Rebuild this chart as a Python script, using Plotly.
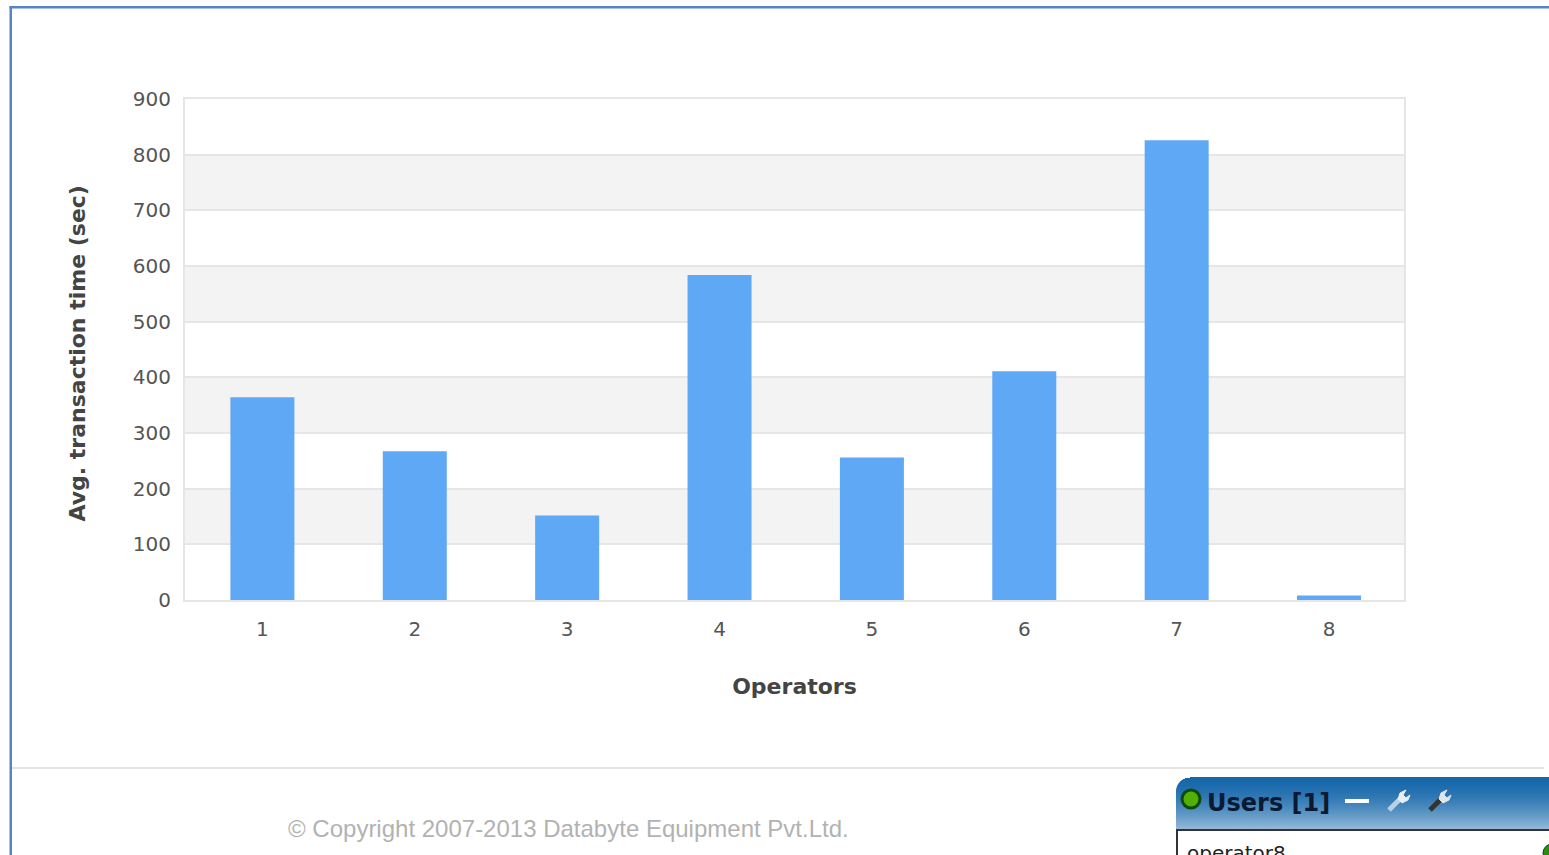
import math

import plotly.graph_objects as go

WIDTH, HEIGHT = 1549, 855
PLOT_L, PLOT_R, PLOT_T, PLOT_B = 185, 1404, 99, 600

# Average transaction time per operator
operators = [1, 2, 3, 4, 5, 6, 7, 8]
avg_time_sec = [364, 267, 152, 584, 256, 411, 826, 8]
y_ticks = [0, 100, 200, 300, 400, 500, 600, 700, 800, 900]

BAR_BLUE = "#5fa8f5"
GRID = "#e6e6e6"
BAND = "#f3f3f3"
TEXT = "#555555"
TITLE = "#444444"


def px(x):
    """Page pixel to paper x (paper spans the plot area)."""
    return (x - PLOT_L) / (PLOT_R - PLOT_L)


def py(y):
    """Page pixel to paper y (paper spans the plot area)."""
    return (PLOT_B - y) / (PLOT_B - PLOT_T)


def page_rect(x0, y0, x1, y1, color):
    """Filled rectangle placed in page pixels."""
    return dict(type="rect", xref="paper", yref="paper", layer="above",
                x0=px(x0), x1=px(x1), y0=py(y0), y1=py(y1),
                fillcolor=color, line_width=0)


def page_path(points, color, width=0, fill=None):
    """Polyline placed in page pixels."""
    d = "M" + " L".join(f"{px(a):.5f},{py(b):.5f}" for a, b in points)
    if fill:
        d += " Z"
    return dict(type="path", xref="paper", yref="paper", layer="above", path=d,
                fillcolor=fill or "rgba(0,0,0,0)",
                line=dict(color=color, width=width))


def lerp_color(c0, c1, t):
    return "rgb({},{},{})".format(*[round(a + (b - a) * t) for a, b in zip(c0, c1)])


shapes = []

# Alternating horizontal bands behind the bars
for low, high in zip(y_ticks[1::2], y_ticks[2::2]):
    shapes.append(dict(type="rect", xref="x domain", yref="y", layer="below",
                       x0=0, x1=1, y0=low, y1=high,
                       fillcolor=BAND, line_width=0))

# Window frame and footer rule
shapes += [
    page_rect(9.5, 6, WIDTH, 8.5, "#5585c4"),
    page_rect(9.5, 6, 12, HEIGHT, "#5585c4"),
    page_rect(12, 767, 1544, 769, "#e4e4e4"),
]

# Users panel header: vertical gradient with a rounded top-left corner
PANEL_L, PANEL_T, PANEL_B = 1176, 777, 829
CORNER = 14
TOP_RGB, BOTTOM_RGB = (22, 103, 170), (150, 187, 218)
for row in range(PANEL_T, PANEL_B):
    depth = row - PANEL_T
    t = (depth / (PANEL_B - PANEL_T)) ** 1.6
    inset = 0
    if depth < CORNER:
        inset = CORNER - math.sqrt(CORNER ** 2 - (CORNER - depth) ** 2)
    shapes.append(page_rect(PANEL_L + inset, row, WIDTH, row + 1.2,
                            lerp_color(TOP_RGB, BOTTOM_RGB, t)))

# Users panel body outline
shapes += [
    page_rect(PANEL_L, 829, WIDTH, HEIGHT, "#ffffff"),
    page_rect(PANEL_L, 829, WIDTH, 831, "#333333"),
    page_rect(PANEL_L, 829, PANEL_L + 2, HEIGHT, "#333333"),
]

# Status lamp in the panel header and at the list row
shapes += [
    dict(type="circle", xref="paper", yref="paper", layer="above",
         x0=px(1182), x1=px(1200), y0=py(808), y1=py(790),
         fillcolor="#52b005", line=dict(color="#0c4a10", width=3)),
    dict(type="circle", xref="paper", yref="paper", layer="above",
         x0=px(1543), x1=px(1561), y0=py(862), y1=py(844),
         fillcolor="#2f8a10", line=dict(color="#0c4a10", width=1)),
]

# Minimise dash and the two wrench icons
shapes.append(page_rect(1345, 799, 1369, 803, "#ffffff"))
for left, stroke, head in ((1387, "#b9cfe2", "#e8eef4"), (1428, "#333333", "#dfe6ec")):
    shapes.append(page_path([(left + 2, 810), (left + 14, 798)], stroke, width=5))
    shapes.append(page_path(
        [(left + 11, 799), (left + 13, 793), (left + 19, 790), (left + 16, 795),
         (left + 19, 798), (left + 23, 795), (left + 21, 800), (left + 15, 803)],
        head, width=1, fill=head))

annotations = [
    dict(text="<b>Avg. transaction time (sec)</b>",
         xref="paper", yref="paper", x=px(77), y=py(353.5), textangle=-90,
         xanchor="center", yanchor="middle", showarrow=False,
         font=dict(family="DejaVu Sans", size=22, color=TITLE)),
    dict(text="© Copyright 2007-2013 Databyte Equipment Pvt.Ltd.",
         xref="paper", yref="paper", x=px(568), y=py(829),
         xanchor="center", yanchor="middle", showarrow=False,
         font=dict(family="Liberation Sans", size=24, color="#b2b2b2")),
    dict(text="<b>Users [1]</b>", xref="paper", yref="paper", x=px(1205), y=py(803),
         xanchor="left", yanchor="middle", showarrow=False,
         font=dict(family="DejaVu Sans", size=24, color="#0a1a33")),
    dict(text="operator8", xref="paper", yref="paper", x=px(1185), y=py(853),
         xanchor="left", yanchor="middle", showarrow=False,
         font=dict(family="DejaVu Sans", size=20, color="#222222")),
]

fig = go.Figure(
    go.Bar(x=operators, y=avg_time_sec, width=0.42,
           marker=dict(color=BAR_BLUE, line_width=0))
)

fig.update_layout(
    width=WIDTH,
    height=HEIGHT,
    autosize=False,
    margin=dict(l=PLOT_L, r=WIDTH - PLOT_R, t=PLOT_T, b=HEIGHT - PLOT_B, pad=0),
    paper_bgcolor="#ffffff",
    plot_bgcolor="#ffffff",
    showlegend=False,
    shapes=shapes,
    annotations=annotations,
)
fig.update_xaxes(
    range=[0.492, 8.492],
    tickmode="array",
    tickvals=operators,
    ticks="outside",
    ticklen=10,
    tickcolor="rgba(0,0,0,0)",
    showgrid=False,
    zeroline=False,
    showline=True,
    mirror=True,
    linecolor=GRID,
    linewidth=2,
    tickfont=dict(family="DejaVu Sans", size=20, color=TEXT),
    title=dict(text="<b>Operators</b>", standoff=39,
               font=dict(family="DejaVu Sans", size=22, color=TITLE)),
)
fig.update_yaxes(
    range=[0, 900],
    tickmode="array",
    tickvals=y_ticks,
    ticks="outside",
    ticklen=8,
    tickcolor="rgba(0,0,0,0)",
    showgrid=True,
    gridcolor=GRID,
    gridwidth=2,
    zeroline=False,
    showline=True,
    mirror=True,
    linecolor=GRID,
    linewidth=2,
    tickfont=dict(family="DejaVu Sans", size=20, color=TEXT),
)

fig.write_html("out.html", config=dict(displayModeBar=False))
